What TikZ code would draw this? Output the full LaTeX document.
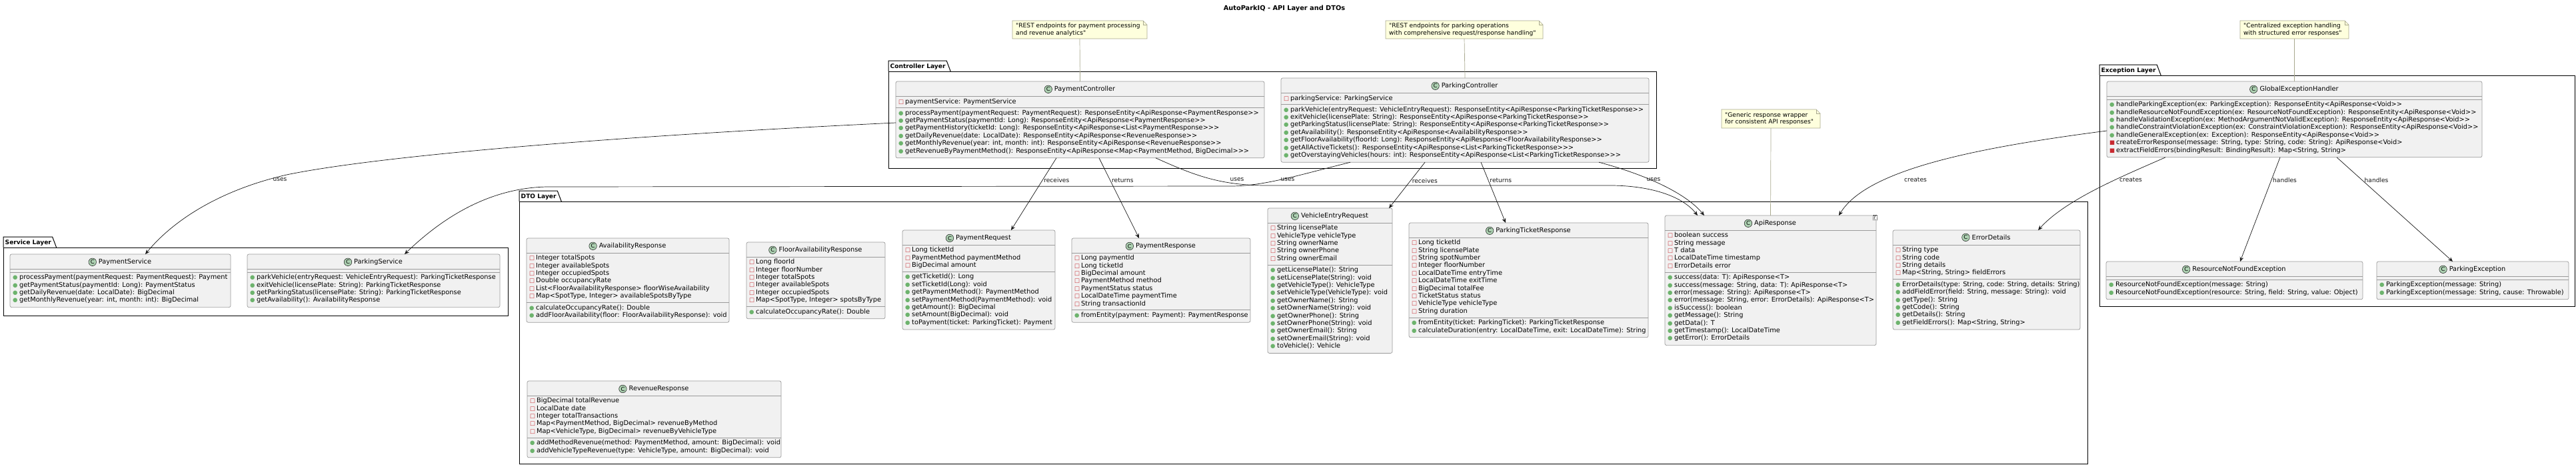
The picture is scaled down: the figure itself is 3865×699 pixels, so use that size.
\documentclass[tikz,border=0pt]{standalone}
\usepackage{fontspec}
\usepackage{tikz}
\usetikzlibrary{arrows.meta,positioning}
\newfontfamily\umlfont{DejaVu Sans}
\definecolor{ClsFill}{HTML}{F1F1F1}
\definecolor{ClsLine}{HTML}{9A9A9A}
\definecolor{IconFill}{HTML}{ADD1B2}
\definecolor{InkDark}{HTML}{181818}
\definecolor{NoteFill}{HTML}{FEFFDD}
\definecolor{NoteLine}{HTML}{A9A98F}
\definecolor{FldRed}{HTML}{C82930}
\definecolor{PubGreen}{HTML}{6DB36D}
\newcommand{\memfont}{\umlfont\fontsize{9.8}{11.4}\selectfont}
\newcommand{\lblfont}{\umlfont\fontsize{9.1}{10.6}\selectfont}
\newcommand{\umlmark}[2]{\makebox[10pt][l]{\textcolor{#1}{\fontsize{8.5}{8.5}\selectfont #2}}}
\newcommand{\mfld}{\umlmark{FldRed}{□}}
\newcommand{\mpub}{\umlmark{PubGreen}{●}}
\newcommand{\mprv}{\umlmark{FldRed}{■}}
% class box: id, x, y, width, title, #attrs, attrs, #ops, ops
\newcommand{\umlclass}[9]{%
  \pgfmathsetmacro{\attrh}{ifthenelse(#6==0,5,#6*11.4+6)}%
  \pgfmathsetmacro{\clsh}{22+\attrh+#8*11.4+7}%
  \node[clsbox,minimum width=#4,minimum height=\clsh] (#1) at (#2,#3) {};
  \draw[clssep] (#2,#3+22) -- ++(#4,0) (#2,#3+22+\attrh) -- ++(#4,0);
  \node[clsname] (#1-name) at (#2+#4/2+7,#3+14.5) {#5};
  \node[clsicon,left=3pt of #1-name] (#1-icon) {C};
  \node[members] (#1-attrs) at (#2+4,#3+25) {#7};
  \node[members] (#1-ops) at (#2+4,#3+25+\attrh) {#9};
}
% note: id, x, y, width, height, text
\newcommand{\umlnote}[6]{%
  \filldraw[notebox] (#2,#3) -- ++(#4-6,0) -- ++(6,6) -- ++(0,#5-6) -- ++(-#4,0) -- cycle;
  \draw[notebox,fill=none] (#2+#4-6,#3) -- ++(0,6) -- ++(6,0);
  \node[notetxt] (#1) at (#2+5,#3+#5/2) {#6};
  \coordinate (#1-foot) at (#2+#4/2,#3+#5);
}
% package: id, x0, body top, x1, bottom, label
\newcommand{\umlpkg}[6]{%
  \draw[pkgline] (#2,#3) rectangle (#4,#5);
  \node[pkgname] (#1) at (#2,#3) {#6};
  \draw[pkgline] (#1.south west) -- (#1.north west) -- ([xshift=-1pt]#1.north east) -- ([xshift=5pt]#1.south east);
}

\begin{document}
\begin{tikzpicture}[x=1pt,y=-1pt,
    clsbox/.style={draw=ClsLine,fill=ClsFill,line width=0.7pt,rounded corners=2.5pt,anchor=north west,inner sep=0pt,outer sep=0pt},
    clssep/.style={draw=ClsLine,line width=0.7pt},
    clsname/.style={anchor=base,inner sep=0pt,font=\memfont},
    clsicon/.style={circle,draw=InkDark,line width=0.5pt,fill=IconFill,minimum size=11.5pt,inner sep=0pt,font=\umlfont\fontsize{8.4}{8.4}\selectfont},
    members/.style={anchor=north west,inner sep=0pt,align=left,font=\memfont,execute at begin node=\strut},
    pkgline/.style={draw=black,line width=1pt},
    pkgname/.style={anchor=south west,inner xsep=2.5pt,inner ysep=1pt,text height=10pt,text depth=3.5pt,font=\umlfont\bfseries\fontsize{9.1}{10.6}\selectfont},
    notebox/.style={draw=NoteLine,fill=NoteFill,line width=0.6pt},
    notetxt/.style={anchor=west,inner sep=0pt,align=left,font=\lblfont},
    noteln/.style={draw=NoteLine,line width=0.7pt},
    dep/.style={-{Stealth[length=7pt,width=6pt,inset=2.5pt]},draw=InkDark,line width=0.7pt},
    lbl/.style={font=\lblfont,text=InkDark,inner sep=1pt},
    tmpl/.style={draw=InkDark,dash pattern=on 1pt off 1pt,fill=white,inner sep=1pt,font=\umlfont\itshape\fontsize{7}{7}\selectfont},
    ttl/.style={font=\umlfont\bfseries\fontsize{9.8}{11.4}\selectfont}
  ]
  \path[use as bounding box,fill=white] (0,0) rectangle (3865,699);
  \node[ttl] (title) at (1927,13) {AutoParkIQ - API Layer and DTOs};

  % packages
  \umlpkg{pkg-ctl}{1333}{107}{2485}{252}{Controller Layer}
  \umlpkg{pkg-exc}{3150}{113}{3863}{459}{Exception Layer}
  \umlpkg{pkg-svc}{5}{371}{762}{473}{Service Layer}
  \umlpkg{pkg-dto}{779}{302}{3132}{695}{DTO Layer}

  % controllers
  \umlclass{pc}{1344}{122}{553}{PaymentController}{1}{\mfld paymentService: PaymentService}{6}{%
    \mpub processPayment(paymentRequest: PaymentRequest): ResponseEntity<ApiResponse<PaymentResponse>>\\
    \mpub getPaymentStatus(paymentId: Long): ResponseEntity<ApiResponse<PaymentResponse>>\\
    \mpub getPaymentHistory(ticketId: Long): ResponseEntity<ApiResponse<List<PaymentResponse>>>\\
    \mpub getDailyRevenue(date: LocalDate): ResponseEntity<ApiResponse<RevenueResponse>>\\
    \mpub getMonthlyRevenue(year: int, month: int): ResponseEntity<ApiResponse<RevenueResponse>>\\
    \mpub getRevenueByPaymentMethod(): ResponseEntity<ApiResponse<Map<PaymentMethod, BigDecimal>>>}
  \umlclass{pkc}{1922}{117}{552}{ParkingController}{1}{\mfld parkingService: ParkingService}{7}{%
    \mpub parkVehicle(entryRequest: VehicleEntryRequest): ResponseEntity<ApiResponse<ParkingTicketResponse>>\\
    \mpub exitVehicle(licensePlate: String): ResponseEntity<ApiResponse<ParkingTicketResponse>>\\
    \mpub getParkingStatus(licensePlate: String): ResponseEntity<ApiResponse<ParkingTicketResponse>>\\
    \mpub getAvailability(): ResponseEntity<ApiResponse<AvailabilityResponse>>\\
    \mpub getFloorAvailability(floorId: Long): ResponseEntity<ApiResponse<FloorAvailabilityResponse>>\\
    \mpub getAllActiveTickets(): ResponseEntity<ApiResponse<List<ParkingTicketResponse>>>\\
    \mpub getOverstayingVehicles(hours: int): ResponseEntity<ApiResponse<List<ParkingTicketResponse>>>}

  % exception handling
  \umlclass{geh}{3161}{122}{563}{GlobalExceptionHandler}{0}{}{7}{%
    \mpub handleParkingException(ex: ParkingException): ResponseEntity<ApiResponse<Void>>\\
    \mpub handleResourceNotFoundException(ex: ResourceNotFoundException): ResponseEntity<ApiResponse<Void>>\\
    \mpub handleValidationException(ex: MethodArgumentNotValidException): ResponseEntity<ApiResponse<Void>>\\
    \mpub handleConstraintViolationException(ex: ConstraintViolationException): ResponseEntity<ApiResponse<Void>>\\
    \mpub handleGeneralException(ex: Exception): ResponseEntity<ApiResponse<Void>>\\
    \mprv createErrorResponse(message: String, type: String, code: String): ApiResponse<Void>\\
    \mprv extractFieldErrors(bindingResult: BindingResult): Map<String, String>}
  \umlclass{rnf}{3160}{392}{385}{ResourceNotFoundException}{0}{}{2}{%
    \mpub ResourceNotFoundException(message: String)\\
    \mpub ResourceNotFoundException(resource: String, field: String, value: Object)}
  \umlclass{pex}{3566}{392}{288}{ParkingException}{0}{}{2}{%
    \mpub ParkingException(message: String)\\
    \mpub ParkingException(message: String, cause: Throwable)}

  % services
  \umlclass{psvc}{15}{381}{331}{PaymentService}{0}{}{4}{%
    \mpub processPayment(paymentRequest: PaymentRequest): Payment\\
    \mpub getPaymentStatus(paymentId: Long): PaymentStatus\\
    \mpub getDailyRevenue(date: LocalDate): BigDecimal\\
    \mpub getMonthlyRevenue(year: int, month: int): BigDecimal}
  \umlclass{pksvc}{371}{381}{379}{ParkingService}{0}{}{4}{%
    \mpub parkVehicle(entryRequest: VehicleEntryRequest): ParkingTicketResponse\\
    \mpub exitVehicle(licensePlate: String): ParkingTicketResponse\\
    \mpub getParkingStatus(licensePlate: String): ParkingTicketResponse\\
    \mpub getAvailability(): AvailabilityResponse}

  % dtos
  \umlclass{avail}{790}{357}{304}{AvailabilityResponse}{6}{%
    \mfld Integer totalSpots\\
    \mfld Integer availableSpots\\
    \mfld Integer occupiedSpots\\
    \mfld Double occupancyRate\\
    \mfld List<FloorAvailabilityResponse> floorWiseAvailability\\
    \mfld Map<SpotType, Integer> availableSpotsByType}{2}{%
    \mpub calculateOccupancyRate(): Double\\
    \mpub addFloorAvailability(floor: FloorAvailabilityResponse): void}
  \umlclass{floor}{1120}{363}{208}{FloorAvailabilityResponse}{6}{%
    \mfld Long floorId\\
    \mfld Integer floorNumber\\
    \mfld Integer totalSpots\\
    \mfld Integer availableSpots\\
    \mfld Integer occupiedSpots\\
    \mfld Map<SpotType, Integer> spotsByType}{1}{%
    \mpub calculateOccupancyRate(): Double}
  \umlclass{preq}{1354}{345}{229}{PaymentRequest}{3}{%
    \mfld Long ticketId\\
    \mfld PaymentMethod paymentMethod\\
    \mfld BigDecimal amount}{7}{%
    \mpub getTicketId(): Long\\
    \mpub setTicketId(Long): void\\
    \mpub getPaymentMethod(): PaymentMethod\\
    \mpub setPaymentMethod(PaymentMethod): void\\
    \mpub getAmount(): BigDecimal\\
    \mpub setAmount(BigDecimal): void\\
    \mpub toPayment(ticket: ParkingTicket): Payment}
  \umlclass{presp}{1608}{357}{268}{PaymentResponse}{7}{%
    \mfld Long paymentId\\
    \mfld Long ticketId\\
    \mfld BigDecimal amount\\
    \mfld PaymentMethod method\\
    \mfld PaymentStatus status\\
    \mfld LocalDateTime paymentTime\\
    \mfld String transactionId}{1}{%
    \mpub fromEntity(payment: Payment): PaymentResponse}
  \umlclass{ver}{1902}{312}{187}{VehicleEntryRequest}{5}{%
    \mfld String licensePlate\\
    \mfld VehicleType vehicleType\\
    \mfld String ownerName\\
    \mfld String ownerPhone\\
    \mfld String ownerEmail}{11}{%
    \mpub getLicensePlate(): String\\
    \mpub setLicensePlate(String): void\\
    \mpub getVehicleType(): VehicleType\\
    \mpub setVehicleType(VehicleType): void\\
    \mpub getOwnerName(): String\\
    \mpub setOwnerName(String): void\\
    \mpub getOwnerPhone(): String\\
    \mpub setOwnerPhone(String): void\\
    \mpub getOwnerEmail(): String\\
    \mpub setOwnerEmail(String): void\\
    \mpub toVehicle(): Vehicle}
  \umlclass{ptr}{2114}{334}{359}{ParkingTicketResponse}{10}{%
    \mfld Long ticketId\\
    \mfld String licensePlate\\
    \mfld String spotNumber\\
    \mfld Integer floorNumber\\
    \mfld LocalDateTime entryTime\\
    \mfld LocalDateTime exitTime\\
    \mfld BigDecimal totalFee\\
    \mfld TicketStatus status\\
    \mfld VehicleType vehicleType\\
    \mfld String duration}{2}{%
    \mpub fromEntity(ticket: ParkingTicket): ParkingTicketResponse\\
    \mpub calculateDuration(entry: LocalDateTime, exit: LocalDateTime): String}
  \umlclass{api}{2498}{323}{317}{ApiResponse}{5}{%
    \mfld boolean success\\
    \mfld String message\\
    \mfld T data\\
    \mfld LocalDateTime timestamp\\
    \mfld ErrorDetails error}{9}{%
    \mpub success(data: T): ApiResponse<T>\\
    \mpub success(message: String, data: T): ApiResponse<T>\\
    \mpub error(message: String): ApiResponse<T>\\
    \mpub error(message: String, error: ErrorDetails): ApiResponse<T>\\
    \mpub isSuccess(): boolean\\
    \mpub getMessage(): String\\
    \mpub getData(): T\\
    \mpub getTimestamp(): LocalDateTime\\
    \mpub getError(): ErrorDetails}
  \node[tmpl] (api-t) at ([xshift=-2pt,yshift=-3pt]api.north east) {T};
  \umlclass{err}{2840}{345}{281}{ErrorDetails}{4}{%
    \mfld String type\\
    \mfld String code\\
    \mfld String details\\
    \mfld Map<String, String> fieldErrors}{6}{%
    \mpub ErrorDetails(type: String, code: String, details: String)\\
    \mpub addFieldError(field: String, message: String): void\\
    \mpub getType(): String\\
    \mpub getCode(): String\\
    \mpub getDetails(): String\\
    \mpub getFieldErrors(): Map<String, String>}
  \umlclass{rev}{791}{571}{381}{RevenueResponse}{5}{%
    \mfld BigDecimal totalRevenue\\
    \mfld LocalDate date\\
    \mfld Integer totalTransactions\\
    \mfld Map<PaymentMethod, BigDecimal> revenueByMethod\\
    \mfld Map<VehicleType, BigDecimal> revenueByVehicleType}{2}{%
    \mpub addMethodRevenue(method: PaymentMethod, amount: BigDecimal): void\\
    \mpub addVehicleTypeRevenue(type: VehicleType, amount: BigDecimal): void}

  % notes
  \umlnote{n-pay}{1519}{31}{202}{27}{"REST endpoints for payment processing\\and revenue analytics"}
  \umlnote{n-park}{2079}{31}{236}{27}{"REST endpoints for parking operations\\with comprehensive request/response handling"}
  \umlnote{n-api}{2583}{164}{148}{28}{"Generic response wrapper\\for consistent API responses"}
  \umlnote{n-exc}{3361}{31}{163}{27}{"Centralized exception handling\\with structured error responses"}
  \draw[noteln] (n-pay-foot) -- (pc.north);
  \draw[noteln] (n-park-foot) -- (pkc.north);
  \draw[noteln] (n-api-foot) -- (api.north);
  \draw[noteln] (n-exc-foot) -- (geh.north);

  % dependencies
  \draw[dep] ([yshift=-62pt]pc.north west) .. controls (900,205) and (560,235) .. (430,262) .. controls (330,285) and (260,330) .. ([xshift=203pt]psvc.north west) node[lbl] at (420,269) {uses};
  \draw[dep] ([xshift=104pt]pkc.south west) .. controls (1950,262) and (1900,278) .. (1850,279) -- (820,280) .. controls (730,282) and (660,330) .. ([xshift=236pt]pksvc.north west) node[lbl] at (1932,269) {uses};
  \draw[dep] ([xshift=241pt]pc.south west) -- node[lbl,pos=0.31,right=1pt] {receives} ([xshift=163pt]preq.north west);
  \draw[dep] ([xshift=305pt]pc.south west) -- node[lbl,pos=0.28,right=1pt] {returns} ([xshift=101pt]presp.north west);
  \draw[dep] ([xshift=390pt]pc.south west) .. controls (1790,262) and (1830,278) .. (1900,278) -- (2420,278) .. controls (2480,279) and (2525,295) .. ([xshift=49pt]api.north west) node[lbl] at (1856,269) {uses};
  \draw[dep] ([xshift=216pt]pkc.south west) -- node[lbl,pos=0.4,right=1pt] {receives} ([xshift=182pt]ver.north west);
  \draw[dep] ([xshift=300pt]pkc.south west) -- node[lbl,pos=0.3,right=1pt] {returns} ([xshift=145pt]ptr.north west);
  \draw[dep] ([xshift=477pt]pkc.south west) .. controls (2470,262) and (2530,290) .. ([xshift=59pt]api.north west) node[lbl] at (2481,269) {uses};
  \draw[dep] ([yshift=-74pt]geh.north west) .. controls (2960,222) and (2800,255) .. ([xshift=261pt]api.north west) node[lbl] at (2874,269) {creates};
  \draw[dep] ([xshift=88pt]geh.south west) .. controls (3190,262) and (3100,298) .. ([xshift=218pt]err.north west) node[lbl] at (3197,269) {creates};
  \draw[dep] ([xshift=260pt]geh.south west) -- node[lbl,pos=0.22,right=1pt] {handles} ([xshift=201pt]rnf.north west);
  \draw[dep] ([xshift=345pt]geh.south west) -- node[lbl,pos=0.22,right=2pt] {handles} ([xshift=114pt]pex.north west);
\end{tikzpicture}
\end{document}
